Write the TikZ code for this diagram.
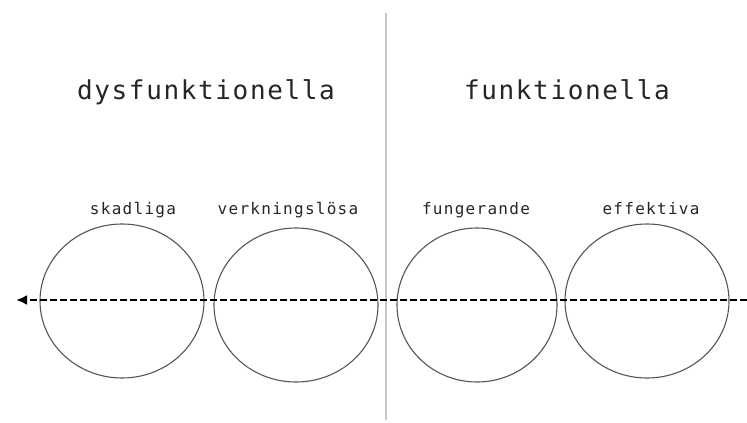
\documentclass[tikz,border=0pt]{standalone}
\usepackage{fontspec}
\usetikzlibrary{arrows.meta}
\newfontfamily\headfont[LetterSpace=6.3]{DejaVu Sans Mono}
\newfontfamily\labelfont[LetterSpace=8]{DejaVu Sans Mono}
\definecolor{inkgray}{HTML}{262626}
\definecolor{rulegray}{HTML}{C8C8C8}
\definecolor{ringgray}{HTML}{555555}
\begin{document}
\begin{tikzpicture}[x=1pt,y=-1pt,
  heading/.style={anchor=base,inner sep=0pt,text=inkgray,font=\headfont\fontsize{26}{30}\selectfont},
  category/.style={anchor=base,inner sep=0pt,text=inkgray,font=\labelfont\fontsize{16}{19}\selectfont},
  ring/.style={draw=ringgray,line width=1.1pt},
  divider/.style={draw=rulegray,line width=1.6pt},
  scalearrow/.style={draw=black,line width=2.4pt,dash pattern=on 7pt off 3pt,-{Latex[length=11pt,width=10pt]}}]
\useasboundingbox (0,0) rectangle (747,423);
\fill[white] (0,0) rectangle (747,423);

% dividing rule between the two halves
\coordinate (ruletop) at (386,13);
\coordinate (rulebot) at (386,420);
\draw[divider] (ruletop) -- (rulebot);

% headings
\node[heading] (dys) at (206,99) {dysfunktionella};
\node[heading] (fun) at (567,99) {funktionella};

% category circles
\draw[ring] (122,301) ellipse [x radius=82,y radius=77];
\draw[ring] (296,305) ellipse [x radius=82,y radius=77];
\draw[ring] (477,305) ellipse [x radius=80,y radius=77];
\draw[ring] (647,301) ellipse [x radius=82,y radius=77];

% category labels
\node[category] (skad) at (133,214) {skadliga};
\node[category] (verk) at (288,214) {verkningslösa};
\node[category] (fung) at (476,214) {fungerande};
\node[category] (eff)  at (651,214) {effektiva};

% dashed scale arrow
\coordinate (scalestart) at (747,300);
\coordinate (scaleend) at (16,300);
\draw[scalearrow] (scalestart) -- (scaleend);
\end{tikzpicture}
\end{document}
